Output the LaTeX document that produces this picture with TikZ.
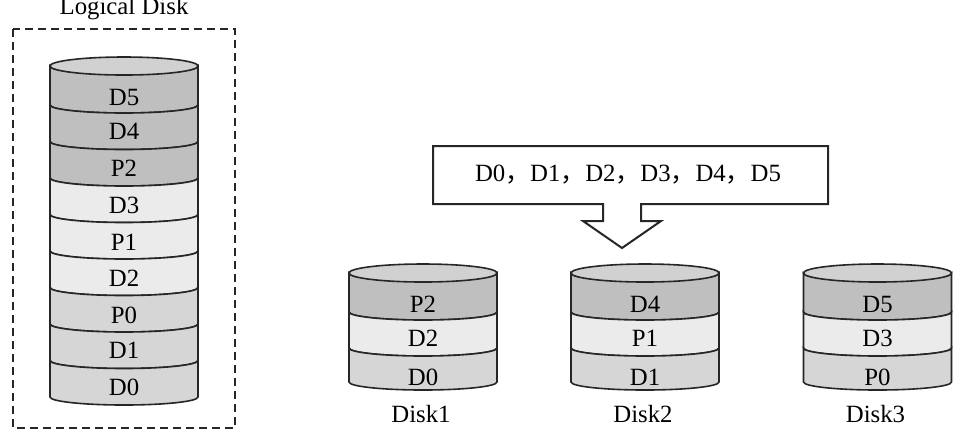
\documentclass[tikz,border=0pt]{standalone}
\usepackage{fontspec}
\setmainfont{Liberation Serif}
\newfontfamily\cjk{Noto Sans CJK SC}
\definecolor{bandDark}{gray}{0.75}
\definecolor{bandMid}{gray}{0.84}
\definecolor{bandLight}{gray}{0.92}
\definecolor{capGray}{gray}{0.82}

\begin{document}
\begin{tikzpicture}[x=0.5pt, y=-0.5pt,
	every node/.style = {font=\fontsize{12.4}{15}\selectfont, inner sep=1pt},
	band/.style = {draw=black!85, line width=0.8pt},
	diskcap/.style = {draw=black!85, line width=0.8pt, fill=capGray},
	group/.style = {draw=black!85, line width=1pt, dash pattern=on 4pt off 2.5pt},
	callout/.style = {draw=black!85, line width=1pt, fill=white}]
	\useasboundingbox (0,0) rectangle (968,447);

	% logical disk
	\node[anchor=base] (title) at (124,14) {Logical Disk};
	\draw[group] (13,29) rectangle (235,428);
	\foreach \t/\b/\c/\ly/\lab in {66/105/bandDark/97/D5, 105/141.5/bandDark/131/D4,
			141.5/178/bandDark/168/P2, 178/214.5/bandLight/205/D3, 214.5/251/bandLight/242/P1,
			251/287.5/bandLight/278/D2, 287.5/324/bandMid/315/P0, 324/360.5/bandMid/350/D1,
			360.5/397/bandMid/387/D0} {
		\draw[band, fill=\c] (50,\t) -- (50,\b)
			arc[start angle=180, end angle=360, x radius=37pt, y radius=4pt] -- (198,\t)
			arc[start angle=0, end angle=-180, x radius=37pt, y radius=4pt] -- cycle;
		\node (L\lab) at (124,\ly) {\lab};
	}
	\draw[diskcap] (124,66) ellipse[x radius=37pt, y radius=4.5pt];

	% stripe order
	\draw[callout] (433,146) -- (828,146) -- (828,204) -- (641,204) -- (641,221) -- (661,221)
		-- (622,248) -- (583,221) -- (603,221) -- (603,204) -- (433,204) -- cycle;
	\node[anchor=base] (seq) at (628,181)
		{D0{\cjk ，}D1{\cjk ，}D2{\cjk ，}D3{\cjk ，}D4{\cjk ，}D5};

	% member disks
	\foreach \x/\n/\la/\lb/\lc in {423/1/P2/D2/D0, 645/2/D4/P1/D1, 877.5/3/D5/D3/P0} {
		\foreach \t/\b/\c/\ly/\lab in {273/312/bandDark/304/\la, 312/348/bandLight/338/\lb,
				348/382/bandMid/377/\lc} {
			\draw[band, fill=\c] (\x-74,\t) -- (\x-74,\b)
				arc[start angle=180, end angle=360, x radius=37pt, y radius=4pt] -- (\x+74,\t)
				arc[start angle=0, end angle=-180, x radius=37pt, y radius=4pt] -- cycle;
			\node (disk\n\lab) at (\x,\ly) {\lab};
		}
		\draw[diskcap] (\x,273) ellipse[x radius=37pt, y radius=4.5pt];
		\node (name\n) at (\x-2,414) {Disk\n};
	}
\end{tikzpicture}
\end{document}
